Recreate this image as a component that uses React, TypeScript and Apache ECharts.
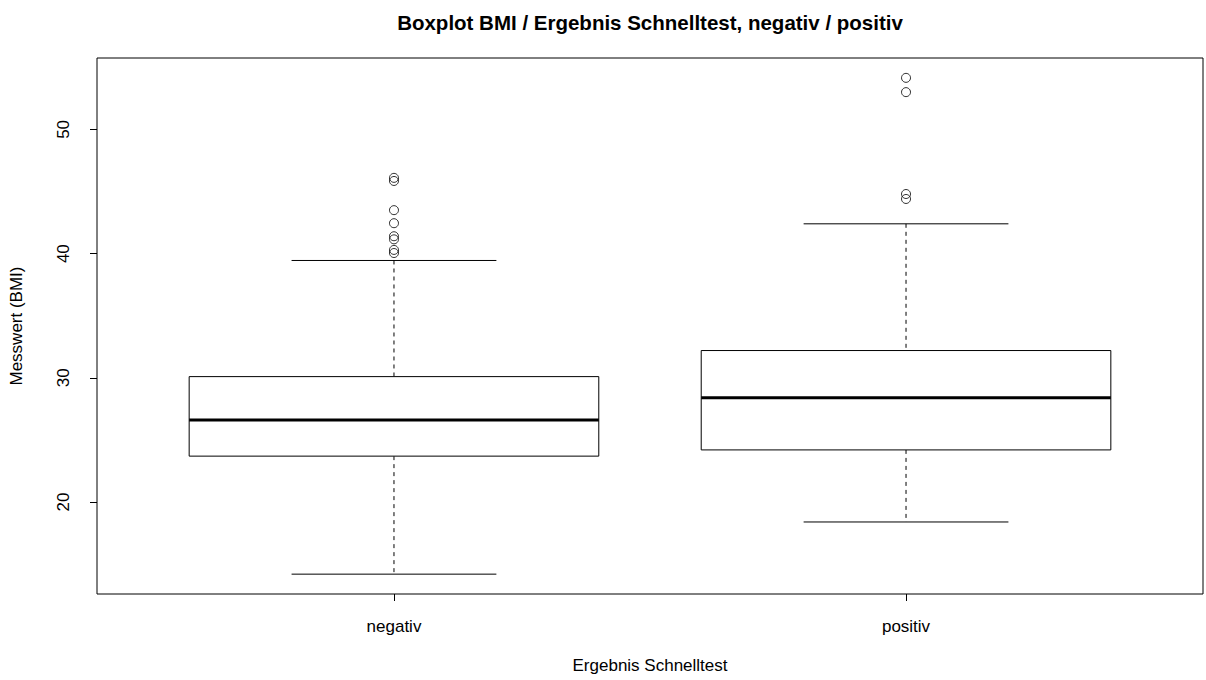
import React, { useEffect, useRef } from "react";
import * as echarts from "echarts";

// Groups on the x axis
const categories = ["negativ", "positiv"];
// Five-number summaries: lower whisker, Q1, median, Q3, upper whisker
const negativStats = [14.2, 23.7, 26.6, 30.1, 39.45];
const positivStats = [18.4, 24.2, 28.4, 32.2, 42.4];
// Points beyond the whiskers
const negativOutliers = [46.1, 45.85, 43.5, 42.45, 41.4, 41.15, 40.3, 40.05];
const positivOutliers = [54.15, 53.0, 44.8, 44.4];
// Labelled ticks on the value axis
const yTicks = [20, 30, 40, 50];

const FONT = "'Liberation Sans', Arial, Helvetica, sans-serif";

export default function App() {
  const ref = useRef<HTMLDivElement>(null);

  useEffect(() => {
    if (!ref.current) return;
    const chart = echarts.init(ref.current, null, { renderer: "svg" });

    const stats = [negativStats, positivStats];
    const boxData = stats.map((s, i) => [i + 1, ...s]);
    const outlierData = [
      ...negativOutliers.map((v) => [1, v]),
      ...positivOutliers.map((v) => [2, v]),
    ];

    // R-style 4% range extension around the data
    const allVals = [...negativStats, ...positivStats, ...negativOutliers, ...positivOutliers];
    const lo = Math.min(...allVals);
    const hi = Math.max(...allVals);
    const pad = (hi - lo) * 0.04;
    const xPad = categories.length * 0.04;

    const line = (a: number[], b: number[], extra: any = {}) => ({
      type: "line",
      shape: { x1: a[0], y1: a[1], x2: b[0], y2: b[1] },
      style: { stroke: "#000", lineWidth: 1, ...extra },
    });

    chart.setOption({
      animation: false,
      backgroundColor: "#fff",
      textStyle: { fontFamily: FONT },
      title: {
        text: "Boxplot BMI / Ergebnis Schnelltest, negativ / positiv",
        left: 645,
        top: 7,
        textAlign: "center",
        textStyle: { fontFamily: FONT, fontSize: 20.5, fontWeight: "bold", color: "#000" },
      },
      grid: {
        left: 88,
        top: 58,
        width: 1115,
        height: 536,
        show: true,
        borderColor: "#000",
        borderWidth: 1,
        backgroundColor: "transparent",
      },
      xAxis: {
        type: "value",
        min: 0.5 - xPad,
        max: categories.length + 0.5 + xPad,
        name: "Ergebnis Schnelltest",
        nameLocation: "middle",
        nameGap: 63,
        nameTextStyle: { fontFamily: FONT, fontSize: 17, color: "#000" },
        axisLine: { show: false },
        splitLine: { show: false },
        axisTick: {
          show: true,
          length: 7,
          customValues: categories.map((_, i) => i + 1),
          lineStyle: { color: "#000" },
        },
        axisLabel: {
          customValues: categories.map((_, i) => i + 1),
          formatter: (v: number) => categories[Math.round(v) - 1] ?? "",
          margin: 24,
          fontFamily: FONT,
          fontSize: 17,
          color: "#000",
        },
      },
      yAxis: {
        type: "value",
        min: lo - pad,
        max: hi + pad,
        name: "Messwert (BMI)",
        nameLocation: "middle",
        nameGap: 72,
        nameRotate: 90,
        nameTextStyle: { fontFamily: FONT, fontSize: 17, color: "#000" },
        axisLine: { show: false },
        splitLine: { show: false },
        axisTick: {
          show: true,
          length: 7,
          customValues: yTicks,
          lineStyle: { color: "#000" },
        },
        axisLabel: {
          customValues: yTicks,
          rotate: 90,
          margin: 25,
          fontFamily: FONT,
          fontSize: 17,
          color: "#000",
        },
      },
      series: [
        {
          type: "custom",
          data: boxData,
          encode: { x: 0, y: [1, 2, 3, 4, 5] },
          renderItem: (_params: any, api: any) => {
            const x = api.value(0);
            const lw = api.value(1);
            const q1 = api.value(2);
            const med = api.value(3);
            const q3 = api.value(4);
            const hw = api.value(5);
            const half = api.size([0.8, 0])[0] / 2;
            const capHalf = api.size([0.4, 0])[0] / 2;
            const c = (v: number) => api.coord([x, v]);
            const pLw = c(lw);
            const pQ1 = c(q1);
            const pMed = c(med);
            const pQ3 = c(q3);
            const pHw = c(hw);
            const cx = pMed[0];
            return {
              type: "group",
              children: [
                line([cx, pHw[1]], [cx, pQ3[1]], { lineDash: [4, 4] }),
                line([cx, pQ1[1]], [cx, pLw[1]], { lineDash: [4, 4] }),
                line([cx - capHalf, pHw[1]], [cx + capHalf, pHw[1]]),
                line([cx - capHalf, pLw[1]], [cx + capHalf, pLw[1]]),
                {
                  type: "rect",
                  shape: { x: cx - half, y: pQ3[1], width: half * 2, height: pQ1[1] - pQ3[1] },
                  style: { fill: "#fff", stroke: "#000", lineWidth: 1 },
                },
                line([cx - half, pMed[1]], [cx + half, pMed[1]], { lineWidth: 3 }),
              ],
            };
          },
          z: 2,
        },
        {
          type: "scatter",
          data: outlierData,
          symbol: "circle",
          symbolSize: 9,
          itemStyle: { color: "transparent", borderColor: "#000", borderWidth: 1 },
          z: 3,
        },
      ],
    });

    return () => chart.dispose();
  }, []);

  return (
    <div
      ref={ref}
      style={{ position: "fixed", left: 0, top: 0, width: 1206, height: 680, background: "#fff" }}
    />
  );
}
